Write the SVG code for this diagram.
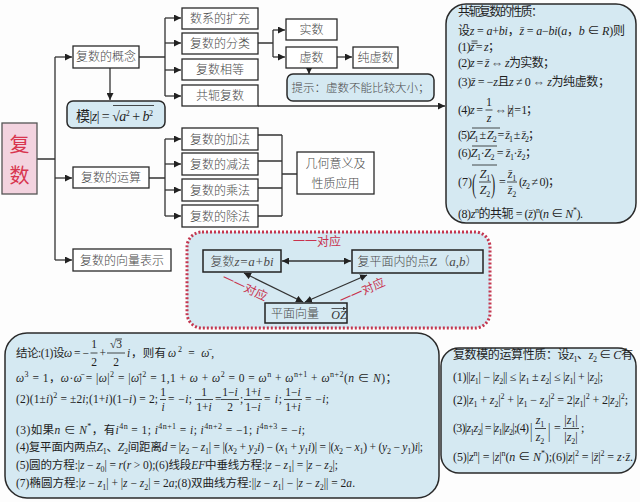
<svg xmlns="http://www.w3.org/2000/svg" width="640" height="502" viewBox="0 0 640 502">
<defs>
<style>
.bx{fill:#fff;stroke:#2a2a2a;stroke-width:1.3}
.rb{fill:#d5e9f2;stroke:#2a2a2a;stroke-width:1.5}
.ln{fill:none;stroke:#333;stroke-width:1.3}
.lb{font-family:"Noto Sans CJK SC",sans-serif;font-size:12px;fill:#4a4a4a;text-anchor:middle;font-weight:300}
.t{font-family:"Liberation Serif","Noto Sans CJK SC",serif;font-size:12px;fill:#1e1e1e}
.b{font-size:11.5px}
.c{text-anchor:middle}
.i{font-style:italic}
.sb{font-size:8px;baseline-shift:-3px}
.sp{font-size:8px;baseline-shift:5px}
.rl{font-family:"Noto Sans CJK SC",sans-serif;font-size:12px;fill:#c8324e}
.fr{stroke:#1e1e1e;stroke-width:0.8}
</style>
<marker id="ah" viewBox="0 0 8 8" refX="8" refY="4" markerWidth="7" markerHeight="7" markerUnits="userSpaceOnUse" orient="auto-start-reverse"><path d="M0,0 L8,4 L0,8 z" fill="#222"/></marker>
<marker id="sa" viewBox="0 0 8 8" refX="8" refY="4" markerWidth="4" markerHeight="4" markerUnits="userSpaceOnUse" orient="auto"><path d="M0,0 L8,4 L0,8 z" fill="#333"/></marker>
</defs>
<rect x="0" y="0" width="640" height="502" fill="#fdfdfd"/>

<g id="conj-props">
<rect x="446" y="4" width="190" height="219" rx="20" class="rb"/>
<text class="t" x="458" y="16" textLength="85">共轭复数的性质：</text>
<text class="t" x="458" y="35" textLength="167">设<tspan class="i">z</tspan> = <tspan class="i">a</tspan>+<tspan class="i">bi</tspan>，<tspan class="i">z̄</tspan> = <tspan class="i">a</tspan>−<tspan class="i">bi</tspan>(<tspan class="i">a</tspan>，<tspan class="i">b</tspan> ∈ <tspan class="i">R</tspan>)则</text>
<text class="t" x="458" y="51" textLength="42">(1)<tspan class="i">z</tspan> = <tspan class="i">z</tspan>；</text>
<line class="fr" x1="471.5" y1="41" x2="477.5" y2="41"/><line class="fr" x1="471.5" y1="43.3" x2="477.5" y2="43.3"/>
<text class="t" x="458" y="67" textLength="97">(2)<tspan class="i">z</tspan> = <tspan class="i">z̄</tspan> ⇔ <tspan class="i">z</tspan>为实数；</text>
<text class="t" x="458" y="86" textLength="152">(3)<tspan class="i">z̄</tspan> = −<tspan class="i">z</tspan>且<tspan class="i">z</tspan> ≠ 0 ⇔ <tspan class="i">z</tspan>为纯虚数；</text>
<text class="t" x="458" y="114" textLength="25">(4)<tspan class="i">z</tspan> =</text>
<text class="t c" x="489" y="106">1</text><line class="fr" x1="485.5" y1="110" x2="492.5" y2="110"/><text class="t c i" x="489" y="122">z</text>
<text class="t" x="495" y="114" textLength="43">⇔ |<tspan class="i">z</tspan>| = 1；</text>
<text class="t" x="458" y="139" textLength="82">(5)<tspan class="i">Z</tspan><tspan class="sb">1</tspan> ± <tspan class="i">Z</tspan><tspan class="sb">2</tspan> = <tspan class="i">z̄</tspan><tspan class="sb">1</tspan> ± <tspan class="i">z̄</tspan><tspan class="sb">2</tspan>；</text>
<line class="fr" x1="472" y1="128" x2="500" y2="128"/>
<text class="t" x="458" y="157" textLength="79">(6)<tspan class="i">Z</tspan><tspan class="sb">1</tspan>·<tspan class="i">Z</tspan><tspan class="sb">2</tspan> = <tspan class="i">z̄</tspan><tspan class="sb">1</tspan>·<tspan class="i">z̄</tspan><tspan class="sb">2</tspan>；</text>
<line class="fr" x1="472" y1="146" x2="497" y2="146"/>
<text class="t" x="458" y="186">(7)</text>
<text class="t" transform="translate(472,193) scale(0.75,1.6)" style="font-size:17px">(</text>
<text class="t c" x="485" y="178"><tspan class="i">Z</tspan><tspan class="sb">1</tspan></text><line class="fr" x1="479" y1="182" x2="491" y2="182"/><text class="t c" x="485" y="194"><tspan class="i">Z</tspan><tspan class="sb">2</tspan></text>
<text class="t" transform="translate(491,193) scale(0.75,1.6)" style="font-size:17px">)</text>
<line class="fr" x1="472" y1="165" x2="497" y2="165"/>
<text class="t" x="499" y="186">=</text>
<text class="t c" x="512" y="178"><tspan class="i">z̄</tspan><tspan class="sb">1</tspan></text><line class="fr" x1="507" y1="182" x2="517" y2="182"/><text class="t c" x="512" y="194"><tspan class="i">z̄</tspan><tspan class="sb">2</tspan></text>
<text class="t" x="519" y="186" textLength="41">(<tspan class="i">z</tspan><tspan class="sb">2</tspan> ≠ 0)；</text>
<text class="t" x="458" y="218" textLength="125">(8)<tspan class="i">z</tspan><tspan class="sp">n</tspan>的共轭 = (<tspan class="i">z̄</tspan>)<tspan class="sp">n</tspan>(<tspan class="i">n</tspan> ∈ <tspan class="i">N</tspan><tspan class="sp">*</tspan>).</text>
</g>

<g id="conclusions">
<rect x="5" y="333" width="434" height="165" rx="22" class="rb"/>
<text class="t b" x="16" y="357" textLength="73">结论:(1)设<tspan class="i">ω</tspan> = −</text>
<text class="t b c" x="94" y="348">1</text><line class="fr" x1="90.5" y1="353" x2="97.5" y2="353"/><text class="t b c" x="94" y="366">2</text>
<text class="t b" x="99.5" y="357">+</text>
<text class="t b c" x="116" y="348">√3</text><line class="fr" x1="115.5" y1="339" x2="122" y2="339"/>
<line class="fr" x1="107" y1="353" x2="125" y2="353"/><text class="t b c" x="116" y="366">2</text>
<text class="t b i" x="127" y="357">i</text>
<text class="t b" x="131" y="357" textLength="35">，则有</text>
<text class="t b" x="168" y="357" textLength="46"><tspan class="i">ω</tspan><tspan class="sp">2</tspan> = <tspan class="i">ω̄</tspan>,</text>
<text class="t b" x="16" y="382" textLength="381"><tspan class="i">ω</tspan><tspan class="sp">3</tspan> = 1，<tspan class="i">ω</tspan>·<tspan class="i">ω̄</tspan> = |<tspan class="i">ω</tspan>|<tspan class="sp">2</tspan> = |<tspan class="i">ω̄</tspan>|<tspan class="sp">2</tspan> = 1,1 + <tspan class="i">ω</tspan> + <tspan class="i">ω</tspan><tspan class="sp">2</tspan> = 0 = <tspan class="i">ω</tspan><tspan class="sp">n</tspan> + <tspan class="i">ω</tspan><tspan class="sp">n+1</tspan> + <tspan class="i">ω</tspan><tspan class="sp">n+2</tspan>(<tspan class="i">n</tspan> ∈ <tspan class="i">N</tspan>)；</text>
<text class="t b" x="16" y="403" textLength="142">(2)(1±<tspan class="i">i</tspan>)<tspan class="sp">2</tspan> = ±2<tspan class="i">i</tspan>;(1+<tspan class="i">i</tspan>)(1−<tspan class="i">i</tspan>) = 2;</text>
<text class="t b c" x="163" y="396">1</text><line class="fr" x1="160" y1="399.5" x2="166" y2="399.5"/><text class="t b c i" x="163" y="411">i</text>
<text class="t b" x="168" y="403" textLength="24">= −<tspan class="i">i</tspan>;</text>
<text class="t b c" x="204" y="396">1</text><line class="fr" x1="195" y1="399.5" x2="213" y2="399.5"/><text class="t b c" x="204" y="411">1+<tspan class="i">i</tspan></text>
<text class="t b" x="215" y="403">=</text>
<text class="t b c" x="230" y="396">1−<tspan class="i">i</tspan></text><line class="fr" x1="221" y1="399.5" x2="239" y2="399.5"/><text class="t b c" x="230" y="411">2</text>
<text class="t b" x="240" y="403">;</text>
<text class="t b c" x="253" y="396">1+<tspan class="i">i</tspan></text><line class="fr" x1="244" y1="399.5" x2="262" y2="399.5"/><text class="t b c" x="253" y="411">1−<tspan class="i">i</tspan></text>
<text class="t b" x="264" y="403" textLength="18">= <tspan class="i">i</tspan>;</text>
<text class="t b c" x="293" y="396">1−<tspan class="i">i</tspan></text><line class="fr" x1="284" y1="399.5" x2="302" y2="399.5"/><text class="t b c" x="293" y="411">1+<tspan class="i">i</tspan></text>
<text class="t b" x="305" y="403" textLength="24">= −<tspan class="i">i</tspan>;</text>
<text class="t b" x="16" y="434" textLength="289">(3)如果<tspan class="i">n</tspan> ∈ <tspan class="i">N</tspan><tspan class="sp">*</tspan>，有<tspan class="i">i</tspan><tspan class="sp">4n</tspan> = 1; <tspan class="i">i</tspan><tspan class="sp">4n+1</tspan> = <tspan class="i">i</tspan>; <tspan class="i">i</tspan><tspan class="sp">4n+2</tspan> = −1; <tspan class="i">i</tspan><tspan class="sp">4n+3</tspan> = −<tspan class="i">i</tspan>;</text>
<text class="t b" x="16" y="451" textLength="407">(4)复平面内两点<tspan class="i">Z</tspan><tspan class="sb">1</tspan>、<tspan class="i">Z</tspan><tspan class="sb">2</tspan>间距离<tspan class="i">d</tspan> = |<tspan class="i">z</tspan><tspan class="sb">2</tspan> − <tspan class="i">z</tspan><tspan class="sb">1</tspan>| = |(<tspan class="i">x</tspan><tspan class="sb">2</tspan> + <tspan class="i">y</tspan><tspan class="sb">2</tspan><tspan class="i">i</tspan>) − (<tspan class="i">x</tspan><tspan class="sb">1</tspan> + <tspan class="i">y</tspan><tspan class="sb">1</tspan><tspan class="i">i</tspan>)| = |(<tspan class="i">x</tspan><tspan class="sb">2</tspan> − <tspan class="i">x</tspan><tspan class="sb">1</tspan>) + (<tspan class="i">y</tspan><tspan class="sb">2</tspan> − <tspan class="i">y</tspan><tspan class="sb">1</tspan>)<tspan class="i">i</tspan>|;</text>
<text class="t b" x="16" y="469" textLength="322">(5)圆的方程:|<tspan class="i">z</tspan> − <tspan class="i">z</tspan><tspan class="sb">0</tspan>| = <tspan class="i">r</tspan>(<tspan class="i">r</tspan> &gt; 0);(6)线段<tspan class="i">EF</tspan>中垂线方程:|<tspan class="i">z</tspan> − <tspan class="i">z</tspan><tspan class="sb">1</tspan>| = |<tspan class="i">z</tspan> − <tspan class="i">z</tspan><tspan class="sb">2</tspan>|;</text>
<text class="t b" x="16" y="487" textLength="339">(7)椭圆方程:|<tspan class="i">z</tspan> − <tspan class="i">z</tspan><tspan class="sb">1</tspan>| + |<tspan class="i">z</tspan> − <tspan class="i">z</tspan><tspan class="sb">2</tspan>| = 2<tspan class="i">a</tspan>;(8)双曲线方程:||<tspan class="i">z</tspan> − <tspan class="i">z</tspan><tspan class="sb">1</tspan>| − |<tspan class="i">z</tspan> − <tspan class="i">z</tspan><tspan class="sb">2</tspan>|| = 2<tspan class="i">a</tspan>.</text>
</g>

<g id="modulus-props">
<rect x="441" y="348" width="195" height="125" rx="18" class="rb"/>
<text class="t" x="453" y="359" textLength="180">复数模的运算性质：设<tspan class="i">z</tspan><tspan class="sb">1</tspan>、<tspan class="i">z</tspan><tspan class="sb">2</tspan> ∈ <tspan class="i">C</tspan>有</text>
<text class="t" x="453" y="381" textLength="150">(1)||<tspan class="i">z</tspan><tspan class="sb">1</tspan>| − |<tspan class="i">z</tspan><tspan class="sb">2</tspan>|| ≤ |<tspan class="i">z</tspan><tspan class="sb">1</tspan> ± <tspan class="i">z</tspan><tspan class="sb">2</tspan>| ≤ |<tspan class="i">z</tspan><tspan class="sb">1</tspan>| + |<tspan class="i">z</tspan><tspan class="sb">2</tspan>|;</text>
<text class="t" x="453" y="404" textLength="175">(2)|<tspan class="i">z</tspan><tspan class="sb">1</tspan> + <tspan class="i">z</tspan><tspan class="sb">2</tspan>|<tspan class="sp">2</tspan> + |<tspan class="i">z</tspan><tspan class="sb">1</tspan> − <tspan class="i">z</tspan><tspan class="sb">2</tspan>|<tspan class="sp">2</tspan> = 2|<tspan class="i">z</tspan><tspan class="sb">1</tspan>|<tspan class="sp">2</tspan> + 2|<tspan class="i">z</tspan><tspan class="sb">2</tspan>|<tspan class="sp">2</tspan>;</text>
<text class="t" x="453" y="432" textLength="76">(3)|<tspan class="i">z</tspan><tspan class="sb">1</tspan><tspan class="i">z</tspan><tspan class="sb">2</tspan>| = |<tspan class="i">z</tspan><tspan class="sb">1</tspan>||<tspan class="i">z</tspan><tspan class="sb">2</tspan>|;(4)</text>
<text class="t" transform="translate(530,437) scale(1,1.7)">|</text>
<text class="t c" x="540" y="424"><tspan class="i">z</tspan><tspan class="sb">1</tspan></text><line class="fr" x1="535" y1="428.5" x2="546" y2="428.5"/><text class="t c" x="540" y="441"><tspan class="i">z</tspan><tspan class="sb">2</tspan></text>
<text class="t" transform="translate(548,437) scale(1,1.7)">|</text>
<text class="t" x="554" y="432">=</text>
<text class="t c" x="571" y="424">|<tspan class="i">z</tspan><tspan class="sb">1</tspan>|</text><line class="fr" x1="563" y1="428.5" x2="579" y2="428.5"/><text class="t c" x="571" y="441">|<tspan class="i">z</tspan><tspan class="sb">2</tspan>|</text>
<text class="t" x="581" y="432">;</text>
<text class="t" x="453" y="461" textLength="180">(5)|<tspan class="i">z</tspan><tspan class="sp">n</tspan>| = |<tspan class="i">z</tspan>|<tspan class="sp">n</tspan>(<tspan class="i">n</tspan> ∈ <tspan class="i">N</tspan><tspan class="sp">*</tspan>);(6)|<tspan class="i">z</tspan>|<tspan class="sp">2</tspan> = |<tspan class="i">z̄</tspan>|<tspan class="sp">2</tspan> = <tspan class="i">z</tspan>·<tspan class="i">z̄</tspan>.</text>
</g>

<g id="correspondence">
<rect x="187" y="232" width="303" height="96" rx="15" fill="#d5e9f2" stroke="#c4364f" stroke-width="3" stroke-dasharray="2 2"/>
</g>

<g id="connectors" class="ln">
<path d="M37,159 H55 M55,57 V260"/>
<path d="M55,57 H72" marker-end="url(#ah)"/>
<path d="M55,178 H72" marker-end="url(#ah)"/>
<path d="M55,260 H72" marker-end="url(#ah)"/>
<path d="M139,57 H165 M165,18 V96"/>
<path d="M165,18 H181" marker-end="url(#ah)"/>
<path d="M165,43 H181" marker-end="url(#ah)"/>
<path d="M165,70 H181" marker-end="url(#ah)"/>
<path d="M165,96 H181" marker-end="url(#ah)"/>
<path d="M258,43 H273 M273,30 V57"/>
<path d="M273,30 H285" marker-end="url(#ah)"/>
<path d="M273,57 H285" marker-end="url(#ah)"/>
<path d="M337,57 H352" marker-end="url(#ah)"/>
<path d="M309,68 V74" marker-end="url(#ah)"/>
<path d="M258,106 H445" marker-end="url(#ah)"/>
<path d="M110,68 V100" marker-end="url(#ah)"/>
<path d="M149,178 H165 M165,139 V216"/>
<path d="M165,139 H181" marker-end="url(#ah)"/>
<path d="M165,164 H181" marker-end="url(#ah)"/>
<path d="M165,190 H181" marker-end="url(#ah)"/>
<path d="M165,216 H181" marker-end="url(#ah)"/>
<path d="M258,135 H282 M258,161 H282 M258,188 H282 M258,216 H282 M282,135 V216 M282,174 H297"/>
<path d="M282,261 H351" marker-start="url(#ah)" marker-end="url(#ah)"/>
<path d="M244,273 L303,302" marker-start="url(#ah)" marker-end="url(#ah)"/>
<path d="M305,302 L367,275" marker-start="url(#ah)" marker-end="url(#ah)"/>
</g>

<g id="root"><rect x="2" y="123" width="35" height="71" fill="#f3d3df" stroke="#555" stroke-width="1.3"/>
<text x="19.5" y="152" style="font-family:'Noto Sans CJK SC',sans-serif;font-size:20px;fill:#d8364f;text-anchor:middle">复</text>
<text x="19.5" y="183" style="font-family:'Noto Sans CJK SC',sans-serif;font-size:20px;fill:#d8364f;text-anchor:middle">数</text></g>

<g id="concept"><rect x="73" y="46" width="66" height="22" class="bx"/><text class="lb" x="106" y="61">复数的概念</text></g>
<g id="extension"><rect x="182" y="8" width="76" height="21" class="bx"/><text class="lb" x="220" y="23">数系的扩充</text></g>
<g id="classify"><rect x="182" y="33" width="76" height="21" class="bx"/><text class="lb" x="220" y="48">复数的分类</text></g>
<g id="equal"><rect x="182" y="59" width="76" height="21" class="bx"/><text class="lb" x="220" y="74">复数相等</text></g>
<g id="conjugate"><rect x="182" y="85" width="76" height="21" class="bx"/><text class="lb" x="220" y="100">共轭复数</text></g>
<g id="real"><rect x="286" y="19" width="51" height="21" class="bx"/><text class="lb" x="311.5" y="34">实数</text></g>
<g id="imag"><rect x="286" y="47" width="51" height="21" class="bx"/><text class="lb" x="311.5" y="62">虚数</text></g>
<g id="pure"><rect x="353" y="47" width="45" height="21" class="bx"/><text class="lb" x="375.5" y="62">纯虚数</text></g>
<g id="hint"><rect x="287" y="74" width="147" height="27" rx="6" class="rb"/><text class="lb" x="360.5" y="92" style="font-size:11.5px">提示：虚数不能比较大小；</text></g>
<g id="modulus"><rect x="67" y="101" width="98" height="27" rx="6" class="rb"/>
<text class="t" style="font-size:14px" x="76" y="121" textLength="77">模|<tspan class="i">z</tspan>| = √<tspan class="i">a</tspan><tspan class="sp">2</tspan> + <tspan class="i">b</tspan><tspan class="sp">2</tspan></text>
<line x1="113" y1="105.5" x2="154" y2="105.5" stroke="#1e1e1e" stroke-width="0.8"/></g>

<g id="ops"><rect x="73" y="167" width="76" height="21" class="bx"/><text class="lb" x="111" y="182">复数的运算</text></g>
<g id="add"><rect x="182" y="128" width="76" height="22" class="bx"/><text class="lb" x="220" y="143.5">复数的加法</text></g>
<g id="sub"><rect x="182" y="153" width="76" height="22" class="bx"/><text class="lb" x="220" y="168.5">复数的减法</text></g>
<g id="mul"><rect x="182" y="179" width="76" height="22" class="bx"/><text class="lb" x="220" y="194.5">复数的乘法</text></g>
<g id="div"><rect x="182" y="205" width="76" height="22" class="bx"/><text class="lb" x="220" y="220.5">复数的除法</text></g>
<g id="geometry"><rect x="297" y="152" width="77" height="42" class="bx"/><text class="lb" x="335.5" y="168">几何意义及</text><text class="lb" x="335.5" y="188">性质应用</text></g>
<g id="vector"><rect x="73" y="249" width="98" height="22" class="bx"/><text class="lb" x="122" y="264.5">复数的向量表示</text></g>

<g id="num-node"><rect x="203" y="250" width="78" height="22" fill="#d5e9f2" stroke="#222" stroke-width="1.5"/><text class="lb" x="242" y="265.5">复数<tspan style="font-family:'Liberation Serif',serif;font-style:italic;font-size:13px">z=a+bi</tspan></text></g>
<g id="point-node"><rect x="352" y="250" width="131" height="23" fill="#d5e9f2" stroke="#222" stroke-width="1.5"/><text class="lb" x="417.5" y="266">复平面内的点<tspan style="font-family:'Liberation Serif',serif;font-size:13px">Z</tspan>（<tspan style="font-family:'Liberation Serif',serif;font-style:italic;font-size:13px">a,b</tspan>）</text></g>
<g id="vec-node"><rect x="265" y="303" width="82" height="20" fill="#d5e9f2" stroke="#222" stroke-width="1.5"/><text class="lb" x="295" y="318">平面向量</text><text x="339" y="319" style="font-family:'Liberation Serif',serif;font-style:italic;font-size:12px;fill:#333;text-anchor:middle">OZ</text>
<path d="M331.5,308.5 H346.5" fill="none" stroke="#333" stroke-width="0.8" marker-end="url(#sa)"/></g>

<g id="labels">
<text class="rl" x="293" y="246">一一对应</text>
<text class="rl" transform="translate(243,291) rotate(25)" text-anchor="middle">一一对应</text>
<text class="rl" transform="translate(364,295) rotate(-24)" text-anchor="middle">一一对应</text>
</g>
</svg>
